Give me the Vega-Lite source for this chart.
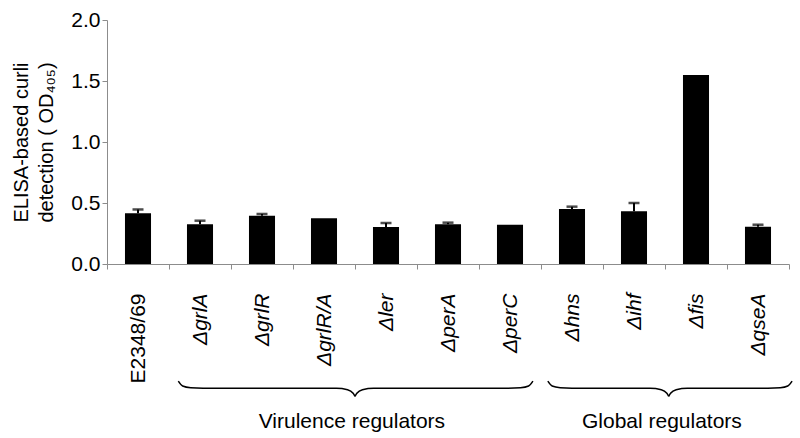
{
  "$schema": "https://vega.github.io/schema/vega-lite/v6.json",
  "autosize": {"type": "none"},
  "width": 682,
  "height": 244,
  "padding": {"left": 107, "top": 20, "right": 11, "bottom": 174},
  "background": "white",
  "config": {
    "font": "Liberation Sans",
    "view": {"stroke": null},
    "axis": {"domainColor": "#8c8c8c", "tickColor": "#8c8c8c", "labelColor": "black", "titleColor": "black", "grid": false}
  },
  "datasets": {
    "strains": [
      {"name": "E2348/69", "value": 0.415, "upper": 0.447},
      {"name": "ΔgrlA", "value": 0.325, "upper": 0.355},
      {"name": "ΔgrlR", "value": 0.395, "upper": 0.41},
      {"name": "ΔgrlR/A", "value": 0.375, "upper": 0.375},
      {"name": "Δler", "value": 0.303, "upper": 0.336},
      {"name": "ΔperA", "value": 0.325, "upper": 0.339},
      {"name": "ΔperC", "value": 0.322, "upper": 0.322},
      {"name": "Δhns", "value": 0.45, "upper": 0.47},
      {"name": "Δihf", "value": 0.432, "upper": 0.5},
      {"name": "Δfis", "value": 1.55, "upper": 1.55},
      {"name": "ΔqseA", "value": 0.306, "upper": 0.322}
    ],
    "braces": [
      {"part": "vL", "x": 1.15, "y": -0.96}, {"part": "vL", "x": 1.22, "y": -1.0}, {"part": "vL", "x": 1.35, "y": -1.014}, {"part": "vL", "x": 1.55, "y": -1.018}, {"part": "vL", "x": 3.7, "y": -1.018}, {"part": "vL", "x": 3.88, "y": -1.03}, {"part": "vL", "x": 3.97, "y": -1.06}, {"part": "vL", "x": 4.0, "y": -1.085},
      {"part": "vR", "x": 4.0, "y": -1.085}, {"part": "vR", "x": 4.03, "y": -1.06}, {"part": "vR", "x": 4.12, "y": -1.03}, {"part": "vR", "x": 4.3, "y": -1.018}, {"part": "vR", "x": 6.47, "y": -1.018}, {"part": "vR", "x": 6.67, "y": -1.014}, {"part": "vR", "x": 6.8, "y": -1.0}, {"part": "vR", "x": 6.87, "y": -0.96},
      {"part": "gL", "x": 7.11, "y": -0.96}, {"part": "gL", "x": 7.18, "y": -1.0}, {"part": "gL", "x": 7.31, "y": -1.014}, {"part": "gL", "x": 7.5, "y": -1.018}, {"part": "gL", "x": 8.76, "y": -1.018}, {"part": "gL", "x": 8.94, "y": -1.03}, {"part": "gL", "x": 9.03, "y": -1.06}, {"part": "gL", "x": 9.06, "y": -1.085},
      {"part": "gR", "x": 9.06, "y": -1.085}, {"part": "gR", "x": 9.09, "y": -1.06}, {"part": "gR", "x": 9.18, "y": -1.03}, {"part": "gR", "x": 9.36, "y": -1.018}, {"part": "gR", "x": 10.66, "y": -1.018}, {"part": "gR", "x": 10.86, "y": -1.014}, {"part": "gR", "x": 10.98, "y": -1.0}, {"part": "gR", "x": 11.05, "y": -0.96}
    ],
    "groups": [
      {"label": "Virulence regulators", "x": 3.95, "y": -1.344},
      {"label": "Global regulators", "x": 8.95, "y": -1.344}
    ]
  },
  "layer": [
    {
      "data": {"name": "strains"},
      "encoding": {
        "x": {
          "field": "name", "type": "nominal", "sort": null,
          "scale": {"paddingInner": 0, "paddingOuter": 0},
          "axis": {
            "title": null, "labelAngle": 270, "labelFontSize": 21, "tickBand": "extent", "tickSize": 5, "labelPadding": 24,
            "labelFontStyle": {"condition": {"test": "datum.value == 'E2348/69'", "value": "normal"}, "value": "italic"}
          }
        }
      },
      "layer": [
        {
          "mark": {"type": "bar", "color": "black", "width": {"band": 0.42}},
          "encoding": {
            "y": {
              "field": "value", "type": "quantitative",
              "scale": {"domain": [0, 2]},
              "axis": {
                "values": [0, 0.5, 1, 1.5, 2], "format": ".1f", "labelFontSize": 21, "tickSize": 5, "labelPadding": 2,
                "title": ["ELISA-based curli", "detection ( OD₄₀₅)"], "titleFontSize": 20, "titleFontWeight": "normal", "titleLineHeight": 25, "titlePadding": 14
              }
            }
          }
        },
        {
          "transform": [{"filter": "datum.upper > datum.value"}],
          "mark": {"type": "rule", "color": "black", "strokeWidth": 2},
          "encoding": {
            "y": {"field": "value", "type": "quantitative"},
            "y2": {"field": "upper"}
          }
        },
        {
          "transform": [{"filter": "datum.upper > datum.value"}],
          "mark": {"type": "tick", "color": "black", "size": 11, "thickness": 2.5},
          "encoding": {
            "y": {"field": "upper", "type": "quantitative"}
          }
        }
      ]
    },
    {
      "encoding": {},
      "layer": [
        {
          "data": {"name": "braces"},
          "mark": {"type": "line", "color": "black", "strokeWidth": 1.5, "interpolate": "monotone"},
          "encoding": {
            "x": {"field": "x", "type": "quantitative", "scale": {"domain": [0, 11], "nice": false, "zero": false}, "axis": null},
            "y": {"field": "y", "type": "quantitative", "scale": {"domain": [0, 2], "nice": false, "zero": false}, "axis": null},
            "detail": {"field": "part"}
          }
        },
        {
          "data": {"name": "groups"},
          "mark": {"type": "text", "fontSize": 21, "color": "black", "align": "center", "baseline": "alphabetic"},
          "encoding": {
            "x": {"field": "x", "type": "quantitative", "axis": null},
            "y": {"field": "y", "type": "quantitative", "axis": null},
            "text": {"field": "label"}
          }
        }
      ]
    }
  ],
  "resolve": {"scale": {"x": "independent", "y": "independent"}}
}
